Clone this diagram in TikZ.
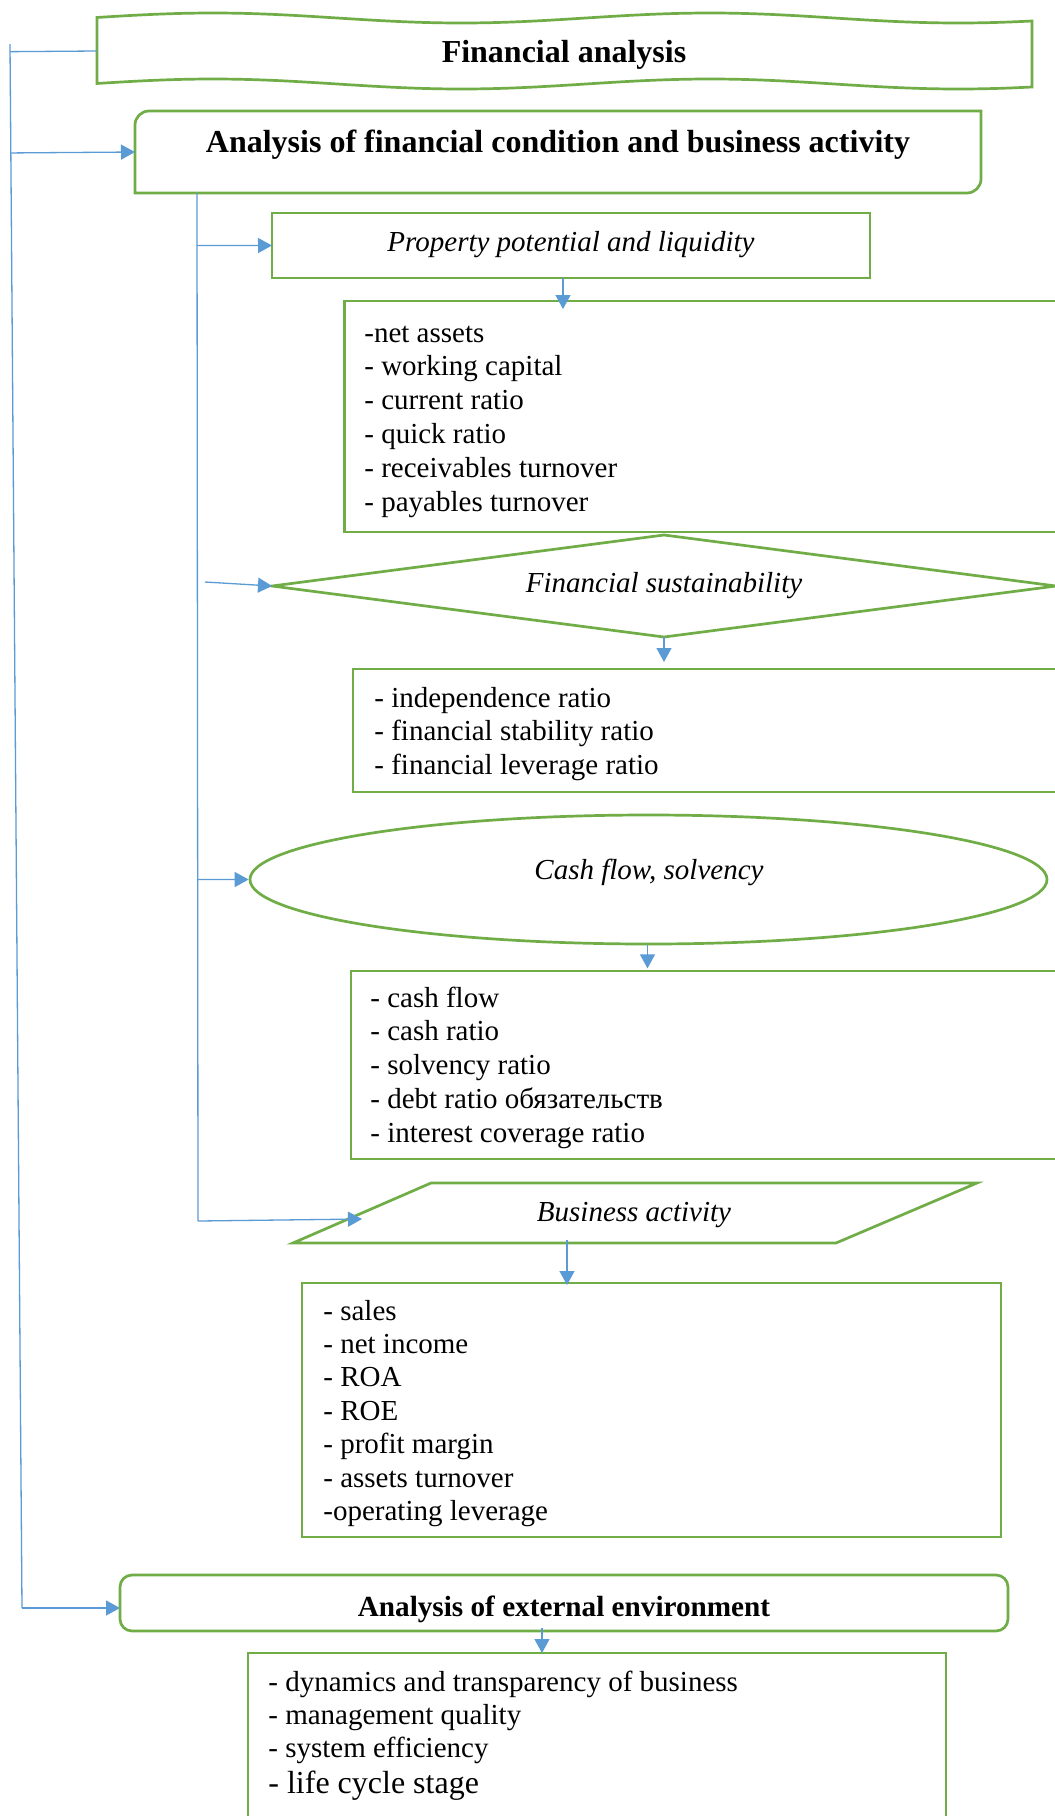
\documentclass[tikz,border=0pt]{standalone}
\usepackage{fontspec}
\setmainfont{Liberation Serif}
\usetikzlibrary{arrows.meta,shapes.geometric,calc}
\definecolor{boxgreen}{RGB}{112,173,71}
\definecolor{linkblue}{RGB}{91,155,213}

\begin{document}
\begin{tikzpicture}[x=0.5pt,y=-0.5pt,
  frame/.style={draw=boxgreen, line width=1.35pt},
  area/.style={rectangle, inner sep=0pt, outer sep=0pt},
  link/.style={draw=linkblue, line width=0.65pt},
  arr/.style={link, -{Triangle[length=7pt,width=7.5pt]}},
  txt/.style={inner sep=0pt, font=\fontsize{14.5pt}{17pt}\selectfont},
  ttlb/.style={txt, anchor=base, font=\bfseries\fontsize{16pt}{19pt}\selectfont},
  ttli/.style={txt, anchor=base, font=\itshape\fontsize{14.5pt}{17pt}\selectfont},
  item/.style={txt, anchor=base west}
]
\useasboundingbox (0,0) rectangle (1055,1816);
\fill[white] (0,0) rectangle (1055,1816);
\clip (0,0) rectangle (1055,1816);

% ---- shapes ----
\node[area, minimum width=467.5pt, minimum height=33pt] (fa) at (564.5,51) {};
\draw[frame]
  plot[domain=97:1032, samples=90] (\x,{18-5*cos(0.72435*(\x-213))})
  -- plot[domain=1032:97, samples=90] (\x,{84-5*cos(0.72435*(\x-213))})
  -- cycle;

\node[area, minimum width=423pt, minimum height=41pt] (b2) at (558,152) {};
\draw[frame] (b2.south west) -- ([yshift=-7pt]b2.north west)
  .. controls ([yshift=-3.13pt]b2.north west) and ([xshift=3.13pt]b2.north west) .. ([xshift=7pt]b2.north west)
  -- (b2.north east) -- ([yshift=7pt]b2.south east)
  .. controls ([yshift=3.13pt]b2.south east) and ([xshift=-3.13pt]b2.south east) .. ([xshift=-7pt]b2.south east)
  -- cycle;

\node[area, frame, minimum width=299pt, minimum height=32.5pt] (prop) at (571,245.5) {};
\node[area, frame, minimum width=377.75pt, minimum height=115.5pt] (l1) at (722.25,416.5) {};

\node[area, minimum width=392pt, minimum height=51pt] (fs) at (664,586) {};
\draw[frame, line join=miter] (fs.west) -- (fs.north) -- (fs.east) -- (fs.south) -- cycle;
\node[area, frame, minimum width=373.5pt, minimum height=61.5pt] (l2) at (726.5,730.5) {};

\node[ellipse, frame, inner sep=0pt, minimum width=398.5pt, minimum height=64.5pt] (cf) at (648.5,879.5) {};
\node[area, frame, minimum width=374.5pt, minimum height=94pt] (l3) at (725.5,1065) {};

\node[area, minimum width=342pt, minimum height=30pt] (ba) at (635,1213) {};
\draw[frame] (ba.south west) -- ($(ba.north west)+(138,0)$) -- (ba.north east)
  -- ($(ba.south east)+(-141,0)$) -- cycle;
\node[area, frame, minimum width=349.5pt, minimum height=127pt] (l4) at (651.5,1410) {};

\node[area, frame, rounded corners=6pt, minimum width=444pt, minimum height=28pt] (ext) at (564,1603) {};
\node[area, frame, minimum width=349pt, minimum height=98.5pt] (l5) at (597,1751.5) {};

% ---- titles ----
\node[ttlb] (fa-t) at (564,62) {Financial analysis};
\node[ttlb] (b2-t) at (558,152.5) {Analysis of financial condition and business activity};
\node[ttli] (prop-t) at (571,251.5) {Property potential and liquidity};
\node[ttli] (fs-t) at (664,592.5) {Financial sustainability};
\node[ttli] (cf-t) at (649,879) {Cash flow, solvency};
\node[ttli] (ba-t) at (634,1221) {Business activity};
\node[ttlb, font=\bfseries\fontsize{14.6pt}{17pt}\selectfont] (ext-t) at (564,1616) {Analysis of external environment};

% ---- indicator lists ----
\foreach \t [count=\i] in {-net assets, - working capital, - current ratio,
    - quick ratio, - receivables turnover, - payables turnover}
  \node[item] (l1-\i) at (364,{342+33.8*(\i-1)}) {\t};
\foreach \t [count=\i] in {- independence ratio, - financial stability ratio,
    - financial leverage ratio}
  \node[item] (l2-\i) at (374,{707+33.8*(\i-1)}) {\t};
\foreach \t [count=\i] in {- cash flow, - cash ratio, - solvency ratio,
    - debt ratio обязательств, - interest coverage ratio}
  \node[item] (l3-\i) at (370,{1007+33.8*(\i-1)}) {\t};
\foreach \t [count=\i] in {- sales, - net income, - ROA, - ROE, - profit margin,
    - assets turnover, -operating leverage}
  \node[item] (l4-\i) at (323,{1320+33.4*(\i-1)}) {\t};
\node[item] (l5-1) at (268,1691) {- dynamics and transparency of business};
\node[item] (l5-2) at (268,1724) {- management quality};
\node[item] (l5-3) at (268,1757) {- system efficiency};
\node[item, font=\fontsize{16pt}{19pt}\selectfont] (l5-4) at (268,1793) {- life cycle stage};

% ---- connectors ----
\coordinate (m0) at (10,44);
\coordinate (m1) at (22,1608);
\draw[link] (m0) -- (m1);
\draw[link] ($(m0)!(fa.west)!(m1)$) -- (fa.west);
\draw[arr] ($(m0)!(b2.west)!(m1)$) -- (b2.west);
\draw[arr] (m1) -- (m1 -| ext.west);

\coordinate (n0) at (197,193);
\coordinate (n1) at (198,1221);
\coordinate (fsin) at (205,582);
\coordinate (bain) at (362,1219);
\draw[link] (n0) -- (n1);
\draw[arr] ($(n0)!(prop.west)!(n1)$) -- (prop.west);
\draw[arr] (fsin) -- (fs.west);
\draw[arr] ($(n0)!(cf.west)!(n1)$) -- (cf.west);
\draw[arr] (n1) -- (bain);

\draw[arr] ($(prop.south)+(-8,0)$) -- ($(prop.south)+(-8,31)$);
\draw[arr] (fs.south) -- ($(fs.south)+(0,25)$);
\draw[arr] ($(cf.south)+(-1,0)$) -- ($(cf.south)+(-1,23)$);
\draw[arr] ($(ba.south)+(-68,-3)$) -- ($(ba.south)+(-68,42)$);
\draw[arr] ($(ext.south)+(-22,-3)$) -- ($(ext.south)+(-22,22)$);
\end{tikzpicture}
\end{document}
